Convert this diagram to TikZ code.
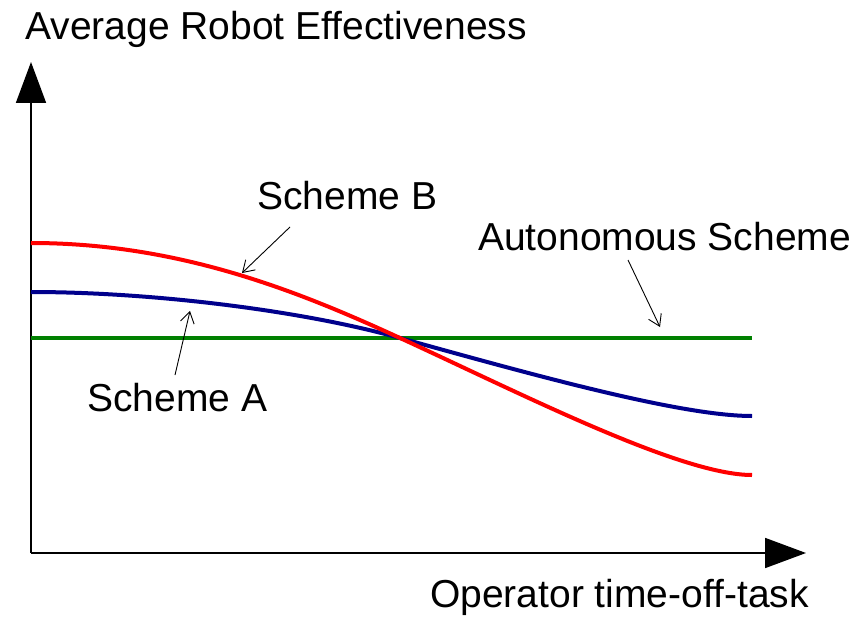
\documentclass[tikz,border=0pt]{standalone}
\usepackage{fontspec}
\setmainfont{Liberation Sans}
\usetikzlibrary{arrows.meta}

\definecolor{schemered}{RGB}{255,0,0}
\definecolor{schemeblue}{RGB}{0,0,140}
\definecolor{autogreen}{RGB}{0,128,0}

\begin{document}
\begin{tikzpicture}[
    x=1pt,y=-1pt,
    axis/.style={draw, line width=1.8pt, -{Triangle[length=41pt,width=30pt]}},
    curve/.style={draw, line width=4pt},
    pointer/.style={draw, line width=0.9pt, -{Straight Barb[length=11pt,width=14pt]}},
    txt/.style={inner sep=0pt, anchor=base west, font=\fontsize{39}{46}\selectfont}
]
\useasboundingbox (0,0) rectangle (850,620);

% axes
\coordinate (o) at (31,553);
\coordinate (ytip) at (31,62);
\coordinate (xtip) at (806,553);
\draw[axis] (o) -- (ytip);
\draw[axis] (o) -- (xtip);

\node[txt] (ylab) at (25,40) {Average Robot Effectiveness};
\node[txt] (xlab) at (430,607) {Operator time-off-task};

% curves
\coordinate (cross) at (400,338);
\draw[curve, autogreen] (31,338) -- (752,338);
\draw[curve, schemeblue] (31,292) .. controls (150,292) and (300,310) .. (cross)
    .. controls (530,374) and (680,416) .. (752,416);
\draw[curve, schemered] (31,243) .. controls (180,243) and (300,292) .. (cross)
    .. controls (520,393) and (680,475) .. (752,475);

% labels
\node[txt] (schB) at (257,210) {Scheme B};
\node[txt] (schA) at (87,411) {Scheme A};
\node[txt] (auto) at (478,250) {Autonomous Scheme};

\coordinate (tipB) at (242,273);
\coordinate (tipA) at (190,311);
\coordinate (tipAuto) at (660,327);
\draw[pointer] (290,227) -- (tipB);
\draw[pointer] (175,375) -- (tipA);
\draw[pointer] (628,260) -- (tipAuto);

\end{tikzpicture}
\end{document}
